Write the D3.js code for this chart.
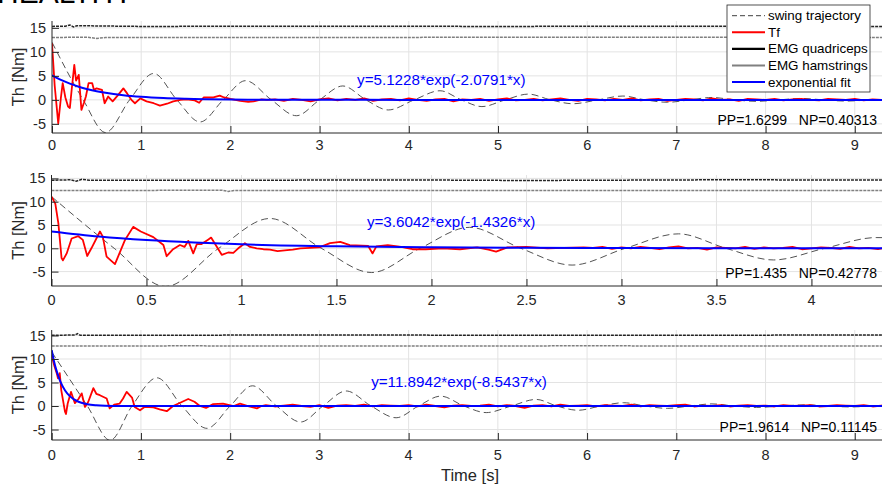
<!DOCTYPE html>
<html>
<head>
<meta charset="utf-8">
<script src="https://cdn.jsdelivr.net/npm/d3@7"></script>
<style>
  body { margin: 0; background: #fff; }
  svg { font-family: "Liberation Sans", Arial, sans-serif; }
</style>
</head>
<body>
<div id="wrapper"></div>
<script>
// ---------- data ----------
const seriesNames = ['swing trajectory', 'Tf', 'EMG quadriceps', 'EMG hamstrings', 'exponential fit'];
const fitLabels = ['y=5.1228*exp(-2.0791*x)', 'y=3.6042*exp(-1.4326*x)', 'y=11.8942*exp(-8.5437*x)'];
const ppLabels = ['PP=1.6299   NP=0.40313', 'PP=1.435   NP=0.42778', 'PP=1.9614   NP=0.11145'];
const xTicks1 = [0, 1, 2, 3, 4, 5, 6, 7, 8, 9];
const xTicks2 = [0, 0.5, 1, 1.5, 2, 2.5, 3, 3.5, 4];
const yTicks = [-5, 0, 5, 10, 15];

// swing trajectory: [time, value]
const swing1 = [[0,12],[0.35,0],[0.6,-6.8],[0.87,0],[1.14,5.5],[1.4,0],[1.66,-4.6],[1.92,0],[2.17,4.0],[2.46,0],
  [2.74,-3.3],[3.0,0],[3.26,2.9],[3.52,0],[3.77,-2.1],[4.06,0],[4.35,1.9],[4.59,0],[4.82,-1.4],[5.08,0],
  [5.34,1.2],[5.59,0],[5.84,-0.8],[6.12,0],[6.4,0.8],[6.65,0],[6.9,-0.5],[7.15,0],[7.4,0.5],[7.65,0],
  [7.9,-0.3],[8.15,0],[8.4,0.3],[8.65,0],[8.9,-0.25],[9.2,0],[9.5,0.1]];
const swing2 = [[0,11.1],[0.33,0],[0.6,-8.2],[0.88,0],[1.15,6.4],[1.42,0],[1.685,-5.2],[1.94,0],[2.2,4.5],[2.47,0],
  [2.74,-3.6],[3.02,0],[3.3,3.1],[3.55,0],[3.8,-2.5],[4.07,0],[4.34,2.3],[4.47,2.2]];
const swing3 = [[0,11.5],[0.4,0],[0.655,-7.3],[0.9,0],[1.18,6.0],[1.46,0],[1.74,-4.75],[2.0,0],[2.25,4.3],[2.52,0],
  [2.79,-3.4],[3.04,0],[3.3,3.2],[3.58,0],[3.86,-2.5],[4.11,0],[4.36,2.1],[4.62,0],[4.87,-1.4],[5.15,0],
  [5.43,1.4],[5.66,0],[5.9,-0.9],[6.15,0],[6.41,0.7],[6.65,0],[6.9,-0.5],[7.15,0],[7.4,0.45],[7.65,0],
  [7.9,-0.3],[8.17,0],[8.45,0.25],[8.7,0],[8.95,-0.2],[9.22,0],[9.5,0.1]];

// Tf transient part: [time, value]
const tf1 = [[0,11.8],[0.03,3],[0.07,-4.9],[0.1,0.5],[0.12,3.5],[0.15,0.5],[0.18,-1.4],[0.2,-1.7],[0.22,2],[0.25,7.3],
  [0.27,4.0],[0.3,5.2],[0.33,-2.1],[0.36,-0.5],[0.38,0.7],[0.41,3.5],[0.45,3.5],[0.47,2.1],[0.5,2.4],[0.56,2.1],
  [0.59,-0.7],[0.63,0.7],[0.68,-0.3],[0.74,1.0],[0.8,2.4],[0.84,1.4],[0.89,0],[0.93,-0.7],[0.99,0.3],[1.06,-0.3],
  [1.14,-0.7],[1.21,-1.2],[1.29,-0.8],[1.36,-0.3],[1.44,0],[1.51,0.1],[1.6,-0.1],[1.65,-0.6],[1.7,0.5],[1.81,0.5],
  [1.88,0.9],[1.93,0.5],[2.0,0.2],[2.11,-0.2],[2.2,-0.4],[2.26,-0.3],[2.35,0.1],[2.41,0]];
const tf2 = [[0,11.1],[0.02,9.6],[0.036,5.4],[0.053,-2.1],[0.06,-2.6],[0.08,-1.1],[0.106,2.1],[0.141,2.6],[0.165,1.8],[0.188,-1.65],
  [0.21,0],[0.255,3.6],[0.27,2.5],[0.29,-1.8],[0.334,-3.4],[0.387,1.8],[0.43,4.6],[0.47,3.6],[0.536,2.4],[0.589,0.7],
  [0.606,-1.7],[0.64,-0.2],[0.676,0.7],[0.7,0.3],[0.72,1.6],[0.746,-1.1],[0.765,0.9],[0.79,0.9],[0.826,1.9],[0.84,2.3],
  [0.866,0.6],[0.896,-1.4],[0.93,-0.9],[0.957,-1.0],[0.983,0],[1.018,1.1],[1.045,0.3],[1.08,0],[1.115,-0.2],[1.15,-0.3],
  [1.19,-0.6],[1.24,-0.4],[1.27,-0.3],[1.31,0],[1.41,0.2],[1.466,1.1],[1.52,1.4],[1.57,0.7],[1.667,0.5],[1.69,-1.1],
  [1.71,0.4],[1.77,0.7],[1.84,0.3],[1.9,-0.2],[1.97,-0.2],[2.06,0],[2.15,-0.2],[2.24,0.2],[2.3,-0.3],[2.34,-0.7],
  [2.4,0.2],[2.5,0.3],[2.61,0],[2.7,0.1],[2.8,0.2]];
const tf3 = [[0,10.8],[0.03,8.5],[0.056,7.0],[0.07,5.9],[0.09,7.0],[0.107,3.4],[0.149,-1.2],[0.16,-1.7],[0.18,0.6],[0.216,3.0],
  [0.26,0.6],[0.3,1.5],[0.336,2.7],[0.373,-0.2],[0.41,0.9],[0.467,3.8],[0.5,2.6],[0.54,2.3],[0.616,1.6],[0.65,-0.5],
  [0.7,0.3],[0.76,0.5],[0.8,1.6],[0.84,3.0],[0.9,1.8],[0.93,-0.2],[0.99,-0.9],[1.04,-0.2],[1.14,-0.3],[1.21,-0.7],
  [1.29,-1.1],[1.36,0],[1.44,0.7],[1.53,1.5],[1.6,0.9],[1.66,0],[1.73,-0.4],[1.81,0.4],[1.92,0.5],[2.04,0],
  [2.11,0.5],[2.2,0],[2.3,-0.5],[2.35,0]];

// Tf steady tail: start time, step and values
const tail1Start = 2.5, tail1Step = 0.1;
const tail1 = [0.1,-0.2,0.2,0.0,-0.3,0.1,0.3,-0.1,0.2,0.0,
  0.3,-0.2,0.1,0.2,-0.1,0.3,0.0,-0.2,0.1,0.2,
  -0.3,0.1,0.0,0.2,-0.2,0.1,0.3,-0.1,0.0,0.2,
  -0.1,0.1,0.3,0.0,-0.2,0.2,0.1,-0.1,0.2,0.0,
  0.3,-0.1,0.1,0.2,-0.2,0.0,0.2,0.1,-0.1,0.3,
  0.0,0.1,-0.2,0.2,0.1,0.0,0.2,-0.1,0.1,0.2,
  0.0,-0.1,0.2,0.1,0.0,0.2,-0.1,0.1,0.0,0.2,0.1];
const tail2Start = 2.85, tail2Step = 0.05;
const tail2 = [0.1,0.3,-0.1,0.2,0.0,0.3,0.1,-0.2,0.2,0.4,
  0.0,0.1,-0.3,0.2,0.1,0.0,0.3,-0.1,0.2,0.0,
  0.1,0.3,-0.2,0.0,0.2,0.1,-0.1,0.3,0.0,0.1,
  -0.2,0.2,0.0,-0.3];
const tail3Start = 2.4, tail3Step = 0.1;
const tail3 = [0.2,-0.1,0.1,0.3,0.0,-0.2,0.2,-0.4,0.1,0.2,
  0.0,0.3,-0.1,0.2,0.1,0.0,0.2,-0.1,0.3,0.0,
  -0.3,0.1,0.2,0.0,0.1,0.3,-0.1,0.2,0.0,-0.4,
  0.1,0.2,-0.1,0.3,0.0,0.1,0.2,-0.1,0.2,0.1,
  0.0,0.3,-0.1,0.2,0.1,0.0,0.2,0.3,-0.1,0.1,
  0.0,0.2,-0.1,0.1,0.2,0.0,0.1,-0.1,0.2,0.0,
  0.1,0.2,-0.1,0.0,0.2,0.1,0.0,0.2,-0.1,0.1,0.2,0.0];

// exponential fits
const fit1 = [[0,5.12],[0.1,4.16],[0.2,3.38],[0.3,2.74],[0.4,2.23],[0.5,1.81],[0.6,1.47],[0.8,0.97],[1.0,0.64],
  [1.25,0.38],[1.5,0.23],[2.0,0.08],[2.5,0.03],[3.0,0.01],[4.0,0],[9.5,0]];
const fit2 = [[0,3.60],[0.25,2.52],[0.5,1.76],[0.75,1.23],[1.0,0.86],[1.5,0.42],[2.0,0.21],[2.5,0.10],
  [3.0,0.05],[3.5,0.02],[4.0,0.01],[4.5,0.01]];
const fit3 = [[0,11.89],[0.025,9.6],[0.05,7.79],[0.075,6.3],[0.1,5.07],[0.15,3.30],[0.2,2.15],[0.25,1.40],[0.3,0.91],
  [0.4,0.39],[0.5,0.17],[0.6,0.07],[0.8,0.01],[1.0,0],[9.5,0]];

// EMG traces
const emgQ1 = [[0,15.3],[0.15,15.35],[0.2,15.6],[0.24,15.2],[0.28,15.45],[1,15.3],[3,15.35],[5,15.3],[7,15.35],[9.5,15.3]];
const emgH1 = [[0,13.0],[0.4,13.05],[0.5,12.8],[0.6,13.0],[3,13.0],[6,13.05],[9.5,13.0]];
const emgQ2 = [[0,14.6],[0.1,14.7],[0.13,14.4],[0.16,14.8],[0.2,14.6],[2,14.65],[2.5,14.55],[3.5,14.7],[4.5,14.65]];
const emgH2 = [[0,12.4],[0.9,12.45],[0.93,12.2],[0.96,12.4],[3,12.4],[4.5,12.4]];
const emgQ3 = [[0,15.05],[0.26,15.1],[0.29,15.4],[0.32,15.05],[3,15.1],[6,15.05],[9.5,15.1]];
const emgH3 = [[0,12.75],[1.5,12.8],[3,12.75],[6,12.8],[9.5,12.75]];

// ---------- drawing ----------
const svg = d3.select('#wrapper').append('svg')
  .attr('width', 882)
  .attr('height', 490);

const colors = { swing: '#404040', tf: '#ff0000', quad: '#000000', ham: '#808080', fit: '#0000ff' };

svg.append('text')
  .attr('x', -3).attr('y', 3)
  .attr('font-size', 30)
  .attr('fill', '#000')
  .text('HEALTHY');

function withTail(points, start, step, vals) {
  return points.concat(vals.map((v, i) => [start + i * step, v]));
}

const panels = [
  { top: 21, bottom: 133, left: 52, xMax: 9.507, yMin: -6.9, yMax: 16.43, xTicks: xTicks1, tickY: 150,
    swing: swing1, tf: withTail(tf1, tail1Start, tail1Step, tail1), fit: fit1, q: emgQ1, h: emgH1,
    fitPos: [3.42, 3.1], ppPos: [9.25, -5.2] },
  { top: 175, bottom: 286, left: 51.5, xMax: 4.466, yMin: -8.09, yMax: 15.73, xTicks: xTicks2, tickY: 305,
    swing: swing2, tf: withTail(tf2, tail2Start, tail2Step, tail2), fit: fit2, q: emgQ2, h: emgH2,
    fitPos: [1.66, 4.57], ppPos: [4.345, -6.4] },
  { top: 330, bottom: 440, left: 51.7, xMax: 9.507, yMin: -7.23, yMax: 16.17, xTicks: xTicks1, tickY: 460,
    swing: swing3, tf: withTail(tf3, tail3Start, tail3Step, tail3), fit: fit3, q: emgQ3, h: emgH3,
    fitPos: [3.58, 4.04], ppPos: [9.25, -5.5] }
];

panels.forEach((p, i) => {
  const xScale = d3.scaleLinear().domain([0, p.xMax]).range([p.left, 900]);
  const yScale = d3.scaleLinear().domain([p.yMin, p.yMax]).range([p.bottom, p.top]);
  const g = svg.append('g');

  // grid
  g.selectAll('.gx').data(p.xTicks.filter(d => d > 0)).enter().append('line')
    .attr('x1', d => xScale(d)).attr('x2', d => xScale(d))
    .attr('y1', p.top).attr('y2', p.bottom)
    .attr('stroke', '#e3e3e3').attr('stroke-width', 1);
  g.selectAll('.gy').data(yTicks).enter().append('line')
    .attr('x1', p.left).attr('x2', 900)
    .attr('y1', d => yScale(d)).attr('y2', d => yScale(d))
    .attr('stroke', '#e3e3e3').attr('stroke-width', 1);

  // clip
  svg.append('defs').append('clipPath').attr('id', 'clip' + i)
    .append('rect').attr('x', p.left).attr('y', p.top)
    .attr('width', 900 - p.left).attr('height', p.bottom - p.top);
  const plot = g.append('g').attr('clip-path', `url(#clip${i})`);

  const line = d3.line().x(d => xScale(d[0])).y(d => yScale(d[1]));
  const smooth = d3.line().curve(d3.curveMonotoneX).x(d => xScale(d[0])).y(d => yScale(d[1]));

  plot.append('path').attr('d', line(p.q)).attr('fill', 'none')
    .attr('stroke', colors.quad).attr('stroke-width', 1.5).attr('stroke-dasharray', '3,1').attr('opacity', 0.85);
  plot.append('path').attr('d', line(p.h)).attr('fill', 'none')
    .attr('stroke', colors.ham).attr('stroke-width', 1.5).attr('stroke-dasharray', '3,1');
  plot.append('path').attr('d', smooth(p.swing)).attr('fill', 'none')
    .attr('stroke', colors.swing).attr('stroke-width', 0.9).attr('stroke-dasharray', '7,4');
  plot.append('path').attr('d', line(p.tf)).attr('fill', 'none')
    .attr('stroke', colors.tf).attr('stroke-width', 1.8).attr('stroke-linejoin', 'round');
  plot.append('path').attr('d', smooth(p.fit)).attr('fill', 'none')
    .attr('stroke', colors.fit).attr('stroke-width', 2);

  // axes (MATLAB style, ticks inward)
  const xAxis = g.append('g').attr('transform', `translate(0,${p.bottom})`)
    .call(d3.axisTop(xScale).tickValues(p.xTicks).tickSize(7).tickFormat(''));
  xAxis.select('.domain').attr('d', `M${p.left},0H900`).attr('stroke', '#262626');
  xAxis.selectAll('.tick line').attr('stroke', '#262626');
  g.selectAll('.xlab').data(p.xTicks).enter().append('text')
    .attr('x', d => xScale(d)).attr('y', p.tickY)
    .attr('text-anchor', 'middle').attr('font-size', 14.5).attr('fill', '#262626')
    .text(d => String(d));

  const yAxis = g.append('g').attr('transform', `translate(${p.left},0)`)
    .call(d3.axisRight(yScale).tickValues(yTicks).tickSize(7).tickFormat(''));
  yAxis.select('.domain').attr('d', `M0,${p.top}V${p.bottom}`).attr('stroke', '#262626');
  yAxis.selectAll('.tick line').attr('stroke', '#262626');
  g.selectAll('.ylab').data(yTicks).enter().append('text')
    .attr('x', p.left - 6).attr('y', d => yScale(d) + 5)
    .attr('text-anchor', 'end').attr('font-size', 14.5).attr('fill', '#262626')
    .text(d => String(d));

  g.append('text')
    .attr('transform', `translate(24,${(p.top + p.bottom) / 2}) rotate(-90)`)
    .attr('text-anchor', 'middle').attr('font-size', 16.5).attr('fill', '#262626')
    .text('Th [Nm]');

  // annotations
  g.append('text')
    .attr('x', xScale(p.fitPos[0])).attr('y', yScale(p.fitPos[1]))
    .attr('font-size', 15.2).attr('fill', colors.fit)
    .text(fitLabels[i]);
  g.append('text')
    .attr('x', xScale(p.ppPos[0])).attr('y', yScale(p.ppPos[1]))
    .attr('text-anchor', 'end').attr('font-size', 14).attr('fill', '#000')
    .style('white-space', 'pre')
    .text(ppLabels[i]);
});

svg.append('text')
  .attr('x', 470).attr('y', 481)
  .attr('text-anchor', 'middle').attr('font-size', 16.5).attr('fill', '#262626')
  .text('Time [s]');

// legend
const legend = svg.append('g').attr('transform', 'translate(727,5)');
legend.append('rect').attr('width', 143).attr('height', 87)
  .attr('fill', '#fff').attr('stroke', '#262626').attr('stroke-width', 0.8);
const legendStyles = [
  { c: colors.swing, w: 1, dash: '5,3' },
  { c: colors.tf, w: 2, dash: null },
  { c: colors.quad, w: 2.2, dash: null },
  { c: colors.ham, w: 2, dash: null },
  { c: colors.fit, w: 2, dash: null }
];
const rows = legend.selectAll('.row').data(seriesNames).enter().append('g')
  .attr('transform', (d, k) => `translate(0,${10.7 + k * 16.6})`);
rows.append('line').attr('x1', 5).attr('x2', 38).attr('y1', 0).attr('y2', 0)
  .attr('stroke', (d, k) => legendStyles[k].c)
  .attr('stroke-width', (d, k) => legendStyles[k].w)
  .attr('stroke-dasharray', (d, k) => legendStyles[k].dash);
rows.append('text').attr('x', 41).attr('y', 4.5)
  .attr('font-size', 13.4).attr('fill', '#000')
  .text(d => d);
</script>
</body>
</html>
